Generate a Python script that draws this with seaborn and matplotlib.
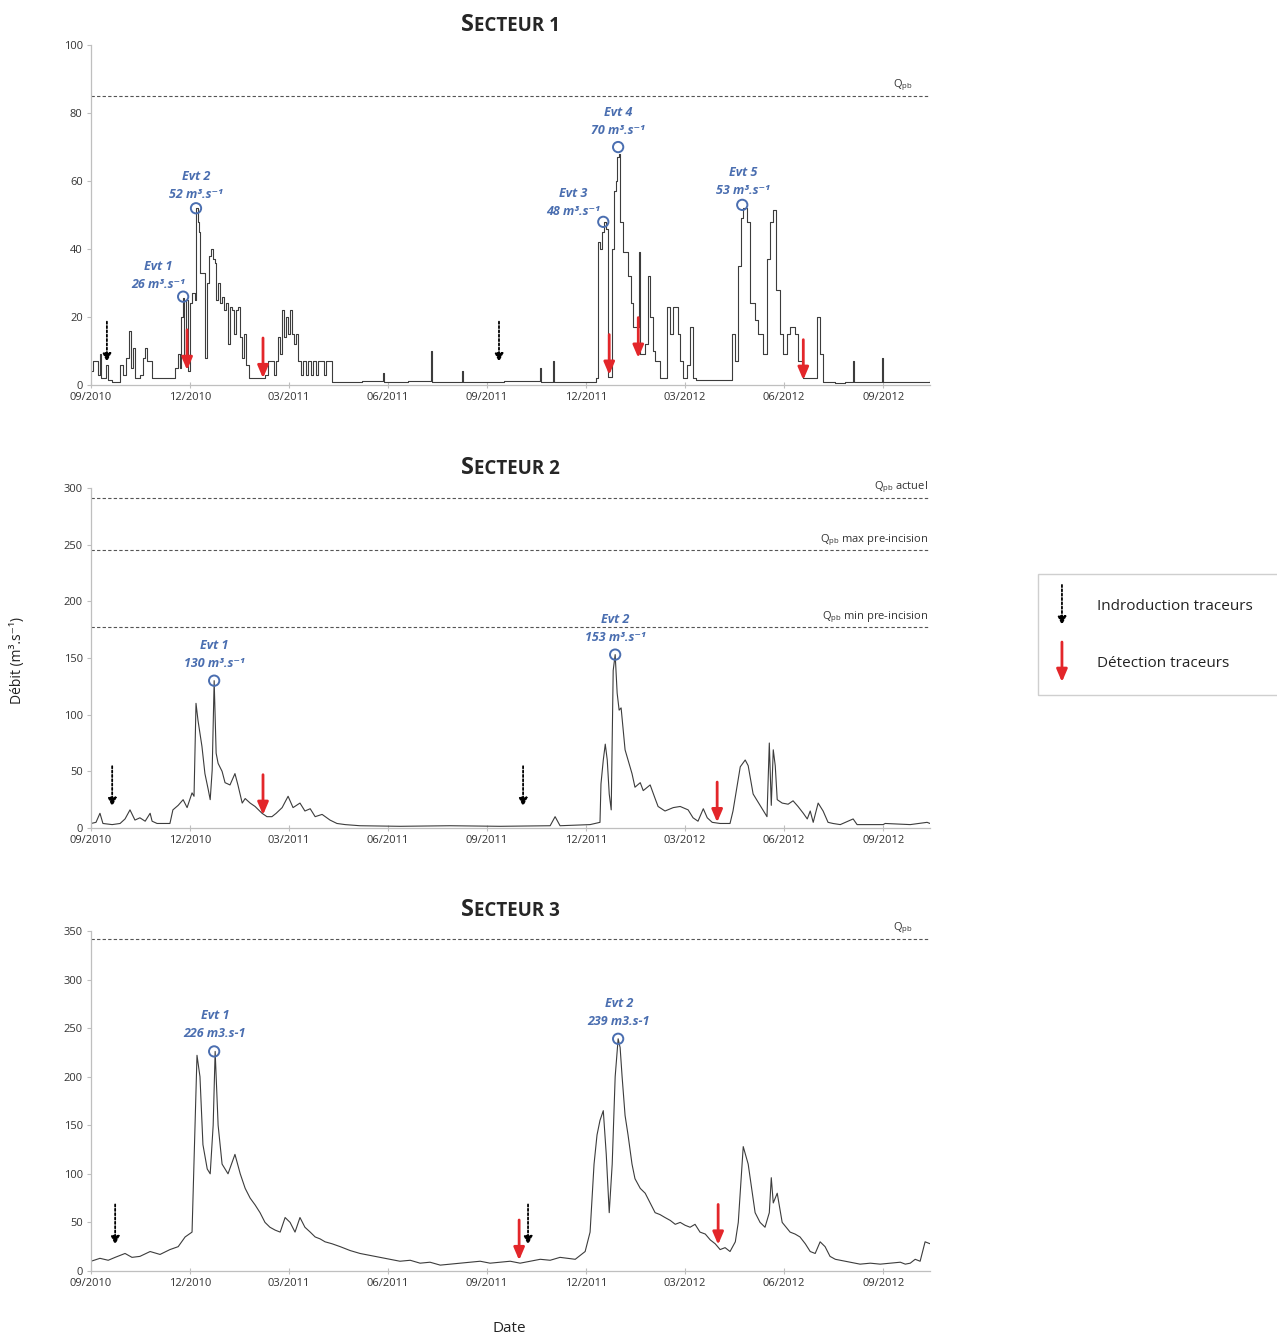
import matplotlib
matplotlib.use("Agg")
import pandas as pd
import matplotlib.pyplot as plt
import seaborn as sns
from matplotlib.offsetbox import TextArea, HPacker, AnchoredOffsetbox
from matplotlib.patches import Rectangle, FancyArrowPatch

sns.set_style("ticks")
plt.rcParams["font.family"] = ["Open Sans", "DejaVu Sans"]

# axe des temps : mois écoulés depuis le 01/09/2010
tick_months = [0, 3, 6, 9, 12, 15, 18, 21, 24]
tick_labels = ["09/2010", "12/2010", "03/2011", "06/2011", "09/2011",
               "12/2011", "03/2012", "06/2012", "09/2012"]

# Secteur 1 (débits en m3/s)
s1_mois = [0.00, 0.06, 0.18, 0.21, 0.27, 0.30, 0.39, 0.45, 0.52, 0.64, 0.82, 0.88,
           0.97, 1.06, 1.15, 1.21, 1.27, 1.33, 1.48, 1.58, 1.64, 1.70, 1.79, 1.85,
           2.18, 2.39, 2.55, 2.64, 2.70, 2.73, 2.79, 2.82, 2.88, 2.94, 3.00, 3.06,
           3.15, 3.18, 3.24, 3.27, 3.30, 3.39, 3.45, 3.52, 3.58, 3.64, 3.70, 3.76,
           3.79, 3.85, 3.91, 3.97, 4.03, 4.09, 4.15, 4.21, 4.27, 4.33, 4.39, 4.45,
           4.52, 4.58, 4.64, 4.70, 4.79, 5.18, 5.27, 5.36, 5.48, 5.55, 5.61, 5.67,
           5.73, 5.79, 5.85, 5.91, 5.97, 6.03, 6.09, 6.15, 6.21, 6.27, 6.36, 6.42,
           6.52, 6.58, 6.67, 6.73, 6.82, 6.88, 7.00, 7.06, 7.12, 7.24, 7.30, 8.20,
           8.85, 8.88, 9.60, 10.30, 10.33, 11.24, 11.27, 12.50, 13.61, 13.64, 14.00,
           14.03, 15.30, 15.36, 15.42, 15.48, 15.55, 15.61, 15.67, 15.79, 15.85,
           15.91, 15.94, 16.00, 16.03, 16.12, 16.21, 16.27, 16.36, 16.42, 16.52,
           16.61, 16.64, 16.79, 16.88, 16.94, 17.03, 17.09, 17.24, 17.45, 17.55,
           17.64, 17.73, 17.79, 17.85, 17.94, 18.06, 18.15, 18.24, 18.33, 19.42,
           19.52, 19.61, 19.70, 19.76, 19.88, 19.97, 20.12, 20.21, 20.36, 20.48,
           20.58, 20.67, 20.76, 20.88, 20.97, 21.09, 21.18, 21.33, 21.42, 21.58,
           22.00, 22.09, 22.18, 22.55, 22.85, 23.09, 23.12, 23.97, 24.00, 25.42]
s1_debit = [4, 7, 7, 3, 9, 2, 2, 6, 1.5, 1, 1, 6,
            3, 8, 16, 5, 11, 2, 3, 8, 11, 7, 7, 2,
            2, 2, 5, 9, 5, 20, 25.5, 8, 25, 4, 24, 27,
            25, 52, 48, 45, 33, 33, 8, 30, 38, 40, 37, 36,
            25, 30, 24, 26, 22, 24, 12, 23, 22, 15, 22, 23,
            14, 8, 15, 6, 2, 2, 3, 7, 7, 3, 7, 14,
            9, 22, 14, 20, 15, 22, 15, 12, 15, 7, 3, 7,
            3, 7, 3, 7, 3, 7, 7, 3, 7, 7, 1, 1.2,
            3.5, 1, 1.2, 10, 1, 4, 1, 1.2, 5, 1, 7,
            1, 2, 42, 40, 45, 48, 46, 2.5, 40, 57,
            60, 67, 68, 48, 39, 39, 32, 24, 17, 17,
            39, 9, 12, 32, 20, 10, 7, 2, 23, 15,
            23, 23, 15, 7, 2, 6, 17, 2, 1.5, 15,
            7, 35, 49, 52, 48, 24, 19, 15, 9, 37,
            48, 51.5, 28, 15, 9, 15, 17, 15, 7, 2,
            20, 9, 1, 0.5, 1, 7, 1, 8, 1, 1.5]

# Secteur 2
s2_mois = [0.00, 0.15, 0.27, 0.36, 0.64, 0.88, 1.03, 1.18, 1.33, 1.48, 1.64, 1.79,
           1.85, 2.00, 2.39, 2.48, 2.64, 2.79, 2.91, 3.06, 3.12, 3.18, 3.24, 3.36,
           3.45, 3.55, 3.61, 3.67, 3.73, 3.79, 3.85, 3.97, 4.06, 4.21, 4.36, 4.45,
           4.58, 4.67, 4.82, 4.97, 5.18, 5.33, 5.48, 5.61, 5.79, 5.97, 6.12, 6.33,
           6.48, 6.64, 6.79, 7.00, 7.24, 7.45, 7.70, 8.15, 9.36, 10.88, 12.39, 13.91,
           14.06, 14.21, 15.12, 15.42, 15.45, 15.52, 15.58, 15.64, 15.70, 15.76,
           15.82, 15.88, 15.94, 16.00, 16.06, 16.18, 16.27, 16.39, 16.48, 16.64,
           16.73, 16.94, 17.09, 17.18, 17.39, 17.64, 17.85, 18.09, 18.24, 18.39,
           18.55, 18.67, 18.82, 19.06, 19.36, 19.45, 19.67, 19.82, 19.91, 20.06,
           20.27, 20.48, 20.55, 20.61, 20.67, 20.73, 20.79, 20.94, 21.12, 21.27,
           21.42, 21.58, 21.70, 21.79, 21.88, 22.03, 22.18, 22.33, 22.48, 22.70,
           23.09, 23.21, 24.00, 24.06, 24.82, 25.33, 25.42]
s2_debit = [4, 5, 13, 4, 3, 4, 8, 16, 7, 9, 6, 13,
            6, 4, 4, 16, 20, 25, 18, 31, 28, 110, 95, 72,
            48, 34, 25, 51, 130, 66, 57, 50, 40, 38, 48, 38,
            22, 26, 22, 19, 13, 10, 10, 13, 18, 28, 18, 22,
            15, 17, 10, 12, 7, 4, 3, 2, 1.5, 2, 1.5, 2,
            10, 2, 3, 5, 39, 60, 74, 60, 30, 16,
            139, 153, 119, 104, 106, 69, 60, 48, 36, 40,
            33, 38, 26, 19, 15, 18, 19, 16, 9, 6,
            17, 9, 5, 4, 4, 15, 54, 60, 55, 30,
            20, 10, 75, 20, 69, 55, 25, 22, 21, 24,
            19, 13, 8, 15, 5, 22, 15, 5, 4, 3,
            8, 3, 3, 4, 3, 5, 4]

# Secteur 3
s3_mois = [0.00, 0.27, 0.52, 0.73, 1.03, 1.24, 1.48, 1.79, 2.09, 2.39, 2.64, 2.85,
           3.06, 3.15, 3.21, 3.30, 3.39, 3.52, 3.61, 3.70, 3.76, 3.85, 3.97, 4.15,
           4.36, 4.52, 4.67, 4.82, 4.97, 5.12, 5.27, 5.42, 5.58, 5.73, 5.88, 6.03,
           6.18, 6.33, 6.48, 6.64, 6.79, 6.94, 7.09, 7.30, 7.55, 7.85, 8.15, 8.45,
           8.76, 9.06, 9.36, 9.67, 9.97, 10.27, 10.58, 10.88, 11.18, 11.48, 11.79,
           12.09, 12.39, 12.70, 13.00, 13.30, 13.61, 13.91, 14.21, 14.45, 14.67,
           14.97, 15.12, 15.24, 15.33, 15.42, 15.52, 15.61, 15.70, 15.79, 15.88,
           15.97, 16.03, 16.09, 16.18, 16.27, 16.39, 16.48, 16.64, 16.79, 16.94,
           17.09, 17.24, 17.39, 17.55, 17.70, 17.85, 18.00, 18.15, 18.30, 18.45,
           18.61, 18.76, 18.91, 19.06, 19.21, 19.36, 19.52, 19.61, 19.76, 19.91,
           20.12, 20.27, 20.42, 20.55, 20.61, 20.67, 20.79, 20.94, 21.06, 21.18,
           21.33, 21.48, 21.64, 21.79, 21.94, 22.09, 22.24, 22.39, 22.55, 22.85,
           23.30, 23.61, 23.91, 24.21, 24.52, 24.67, 24.82, 24.97, 25.12, 25.27,
           25.42]
s3_debit = [10, 13, 11, 14, 18, 14, 15, 20, 17, 22, 25, 35,
            40, 150, 222, 200, 130, 105, 100, 150, 226, 150, 110, 100,
            120, 100, 85, 75, 68, 60, 50, 45, 42, 40, 55, 50,
            40, 55, 45, 40, 35, 33, 30, 28, 25, 21, 18, 16,
            14, 12, 10, 11, 8, 9, 6, 7, 8, 9, 10,
            8, 9, 10, 8, 10, 12, 11, 14, 13, 12,
            20, 40, 110, 140, 155, 165, 120, 60, 110, 200,
            239, 230, 200, 160, 140, 110, 95, 85, 80, 70,
            60, 58, 55, 52, 48, 50, 47, 45, 48, 40,
            38, 32, 28, 22, 24, 20, 30, 50, 128, 110,
            60, 50, 45, 60, 96, 70, 80, 50, 45, 40,
            38, 35, 28, 20, 18, 30, 25, 15, 12, 10,
            7, 8, 7, 8, 9, 7, 8, 12, 10, 30,
            28]

# débits de référence (lignes pointillées)
s1_ref = [85]
s1_ref_txt = ["Q$_{\\mathregular{pb}}$"]
s2_ref = [291, 245, 177]
s2_ref_txt = ["Q$_{\\mathregular{pb}}$ actuel", "Q$_{\\mathregular{pb}}$ max pre-incision",
              "Q$_{\\mathregular{pb}}$ min pre-incision"]
s3_ref = [342]
s3_ref_txt = ["Q$_{\\mathregular{pb}}$"]

# évènements (pics)
s1_evt_mois = [2.79, 3.18, 15.52, 15.97, 19.73]
s1_evt_q = [26, 52, 48, 70, 53]
s1_evt_txt = ["Evt 1\n26 m³.s⁻¹", "Evt 2\n52 m³.s⁻¹", "Evt 3\n48 m³.s⁻¹",
              "Evt 4\n70 m³.s⁻¹", "Evt 5\n53 m³.s⁻¹"]
s2_evt_mois = [3.73, 15.88]
s2_evt_q = [130, 153]
s2_evt_txt = ["Evt 1\n130 m³.s⁻¹", "Evt 2\n153 m³.s⁻¹"]
s3_evt_mois = [3.73, 15.97]
s3_evt_q = [226, 239]
s3_evt_txt = ["Evt 1\n226 m3.s-1", "Evt 2\n239 m3.s-1"]

# introduction / détection des traceurs (position de la pointe)
s1_intro_mois = [0.48, 12.36]
s1_intro_q = [6.8, 6.8]
s1_detect_mois = [2.91, 5.21, 15.70, 16.58, 21.58]
s1_detect_q = [4.4, 2, 3, 8, 1.5]
s2_intro_mois = [0.64, 13.09]
s2_intro_q = [19, 19]
s2_detect_mois = [5.21, 18.97]
s2_detect_q = [11.5, 5]
s3_intro_mois = [0.73, 13.24]
s3_intro_q = [27, 27]
s3_detect_mois = [12.97, 19.00]
s3_detect_q = [11, 27]

BLUE = "#4a6eb0"
RED = "#e3262a"
LINE = "#3c3c3c"
GRID = "#bfbfbf"

panels = [
    dict(num="1", mois=s1_mois, q=s1_debit, ymax=100, yticks=range(0, 101, 20),
         ref=s1_ref, ref_txt=s1_ref_txt, ref_x=0.979,
         evt=(s1_evt_mois, s1_evt_q, s1_evt_txt),
         evt_off=[(-18, 4), (0, 5), (-22, 3), (0, 7.5), (0.5, 6)],
         intro=(s1_intro_mois, s1_intro_q), detect=(s1_detect_mois, s1_detect_q),
         steps=True, rect=[0.0713, 0.7120, 0.6570, 0.2543]),
    dict(num="2", mois=s2_mois, q=s2_debit, ymax=300, yticks=range(0, 301, 50),
         ref=s2_ref, ref_txt=s2_ref_txt, ref_x=0.998,
         evt=(s2_evt_mois, s2_evt_q, s2_evt_txt),
         evt_off=[(0, 7.5), (0, 7.5)],
         intro=(s2_intro_mois, s2_intro_q), detect=(s2_detect_mois, s2_detect_q),
         steps=False, rect=[0.0713, 0.3807, 0.6570, 0.2543]),
    dict(num="3", mois=s3_mois, q=s3_debit, ymax=350, yticks=range(0, 351, 50),
         ref=s3_ref, ref_txt=s3_ref_txt, ref_x=0.979,
         evt=(s3_evt_mois, s3_evt_q, s3_evt_txt),
         evt_off=[(0.5, 8.5), (0.5, 8)],
         intro=(s3_intro_mois, s3_intro_q), detect=(s3_detect_mois, s3_detect_q),
         steps=False, rect=[0.0713, 0.0494, 0.6570, 0.2543]),
]

fig = plt.figure(figsize=(12.77, 13.37), dpi=100)

intro_style = dict(arrowstyle="-|>,head_length=0.5,head_width=0.25", color="black",
                   lw=1.3, ls=(0, (1.2, 1.2)), shrinkA=0, shrinkB=0)
detect_style = dict(arrowstyle="-|>,head_length=0.75,head_width=0.32", color=RED,
                    lw=2.0, shrinkA=0, shrinkB=0)

for p in panels:
    ax = fig.add_axes(p["rect"])
    df = pd.DataFrame({"mois": p["mois"], "debit": p["q"]})
    sns.lineplot(data=df, x="mois", y="debit", ax=ax, color=LINE, lw=0.8,
                 drawstyle="steps-post" if p["steps"] else "default")
    ax.set(xlabel="", ylabel="")
    ax.set_xlim(0, 25.42)
    ax.set_ylim(0, p["ymax"])
    ax.set_xticks(tick_months, tick_labels)
    ax.set_yticks(list(p["yticks"]))
    ax.tick_params(axis="both", labelsize=8, colors=GRID, labelcolor="#333333",
                   length=3, width=0.8, pad=3)
    ax.tick_params(axis="x", direction="inout", length=4)
    sns.despine(ax=ax)
    for s in ("left", "bottom"):
        ax.spines[s].set_color(GRID)
        ax.spines[s].set_linewidth(0.9)

    # débits de référence
    for val, txt in zip(p["ref"], p["ref_txt"]):
        ax.axhline(val, color="#555555", lw=0.8, ls=(0, (3, 2)))
        ax.annotate(txt, xy=(p["ref_x"], val), xycoords=("axes fraction", "data"),
                    xytext=(0, 2), textcoords="offset points", ha="right", va="bottom",
                    fontsize=8, color="#333333")

    # pics des évènements
    em, eq, et = p["evt"]
    ax.scatter(em, eq, s=55, facecolors="none", edgecolors=BLUE, linewidths=1.4, zorder=5)
    for x, y, txt, off in zip(em, eq, et, p["evt_off"]):
        ax.annotate(txt, xy=(x, y), xytext=off, textcoords="offset points",
                    ha="center", va="bottom", fontsize=9, color=BLUE, fontweight="bold",
                    fontstyle="italic", linespacing=1.5)

    # flèches traceurs
    for x, y in zip(*p["intro"]):
        ax.annotate("", xy=(x, y), xytext=(0, 29), textcoords="offset points",
                    arrowprops=intro_style)
    for x, y in zip(*p["detect"]):
        ax.annotate("", xy=(x, y), xytext=(0, 29), textcoords="offset points",
                    arrowprops=detect_style, zorder=6)

    # titre en petites capitales
    title = HPacker(children=[TextArea("S", textprops=dict(fontsize=17, fontweight="bold")),
                              TextArea("ECTEUR " + p["num"],
                                       textprops=dict(fontsize=13.5, fontweight="bold"))],
                    align="baseline", pad=0, sep=0)
    box = AnchoredOffsetbox(loc="lower center", child=title, pad=0, borderpad=0,
                            frameon=False, bbox_to_anchor=(0.5, 1.025),
                            bbox_transform=ax.transAxes)
    ax.add_artist(box)

fig.text(0.014, 0.506, "Débit (m³.s⁻¹)", rotation=90, ha="center", va="center",
         fontsize=10, color="#222222")
fig.text(0.399, 0.006, "Date", ha="center", va="center", fontsize=11, color="#222222")

# légende
fig.patches.append(Rectangle((0.8128, 0.4802), 0.2, 0.0905, transform=fig.transFigure,
                             fill=False, ec="#cfcfcf", lw=1.0))
fig.patches.append(FancyArrowPatch((0.8316, 0.5625), (0.8316, 0.5325),
                                   transform=fig.transFigure, mutation_scale=10,
                                   **intro_style))
fig.patches.append(FancyArrowPatch((0.8316, 0.5198), (0.8316, 0.4899),
                                   transform=fig.transFigure, mutation_scale=10,
                                   **detect_style))
fig.text(0.859, 0.5460, "Indroduction traceurs", ha="left", va="center", fontsize=11,
         color="#222222")
fig.text(0.859, 0.5034, "Détection traceurs", ha="left", va="center", fontsize=11,
         color="#222222")

fig.savefig("out.png", dpi=100)
